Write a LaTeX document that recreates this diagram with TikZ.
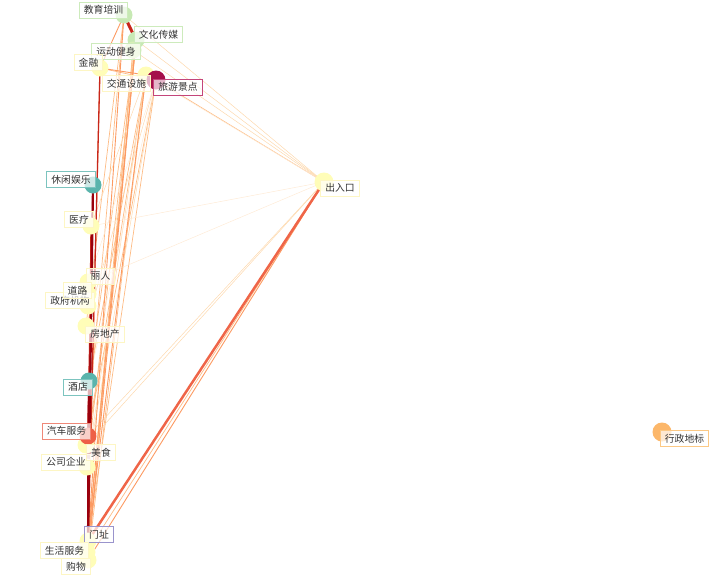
\documentclass[tikz,border=0pt]{standalone}
\usepackage{fontspec}
\newfontfamily\cjk{Noto Sans CJK SC}
\definecolor{cgreen}{HTML}{C7E9B4}
\definecolor{cyellow}{HTML}{FFFDB8}
\definecolor{cteal}{HTML}{5AB4AC}
\definecolor{ccrimson}{HTML}{A50F4A}
\definecolor{cred}{HTML}{EE6047}
\definecolor{corange}{HTML}{FCB76A}
\definecolor{bgreen}{HTML}{CDEBBC}
\definecolor{byellow}{HTML}{FDF6C4}
\definecolor{bteal}{HTML}{7CC4BF}
\definecolor{bcrimson}{HTML}{C4457A}
\definecolor{bred}{HTML}{EF8878}
\definecolor{borange}{HTML}{FCC985}
\definecolor{bpurple}{HTML}{9A94CC}
\definecolor{eheavy}{HTML}{99000D}
\definecolor{estrong}{HTML}{C8261A}
\definecolor{emid}{HTML}{EF6548}
\definecolor{elight}{HTML}{FC9A62}
\definecolor{epale}{HTML}{FDBB84}
\definecolor{efaint}{HTML}{FDD9AE}
\definecolor{eghost}{HTML}{FEEBD6}
\begin{document}
\begin{tikzpicture}[x=1pt,y=-1pt,
	dot/.style={circle,inner sep=0pt,minimum size=17,fill=#1},
	lbl/.style={draw=#1,line width=1pt,fill=white,fill opacity=0.7,text opacity=1,
		inner xsep=4.5pt,inner ysep=0pt,minimum height=16,text=black!80,font=\cjk\fontsize{9.8}{10}\selectfont}]
	\useasboundingbox (0,0) rectangle (720,576);

	% positions of the categories
	\coordinate (jiaoyu) at (124,15);
	\coordinate (wenhua) at (136,40);
	\coordinate (yundong) at (133,50);
	\coordinate (jinrong) at (100,68);
	\coordinate (jiaotong) at (146,75);
	\coordinate (lvyou) at (156,80);
	\coordinate (xiuxian) at (93,185);
	\coordinate (yiliao) at (91,226);
	\coordinate (liren) at (88,282);
	\coordinate (daolu) at (88,294);
	\coordinate (zhengfu) at (88,306);
	\coordinate (fangdi) at (86,326);
	\coordinate (jiudian) at (89,381);
	\coordinate (qiche) at (88,436);
	\coordinate (meishi) at (86,445);
	\coordinate (gongsi) at (87,467);
	\coordinate (menzhi) at (88,541);
	\coordinate (shenghuo) at (87,552);
	\coordinate (gouwu) at (88,560);
	\coordinate (churu) at (324,182);
	\coordinate (xingzheng) at (662,432);

	% links
	\foreach \a/\b in {lvyou/churu,lvyou/menzhi,jiaotong/gouwu,yundong/menzhi,wenhua/jiudian,
		jiaoyu/meishi,jiaotong/qiche,lvyou/meishi,wenhua/shenghuo,jinrong/lvyou,shenghuo/churu,
		yundong/gouwu,jiaotong/jiudian,wenhua/gongsi,jiaoyu/fangdi}
		\draw[epale,line width=0.7pt] (\a) -- (\b);
	\foreach \a/\b in {wenhua/churu,jiaoyu/churu,meishi/churu,qiche/churu,yundong/churu,
		lvyou/gongsi,jiaotong/gongsi,lvyou/fangdi,jiaotong/yiliao}
		\draw[efaint,line width=0.5pt] (\a) -- (\b);
	\foreach \a/\b in {yiliao/churu,liren/churu,lvyou/jiudian,jiaotong/churu,lvyou/liren}
		\draw[eghost,line width=0.5pt] (\a) -- (\b);
	\foreach \a/\b in {gouwu/churu,jiaoyu/menzhi,wenhua/gouwu,jiaotong/menzhi,jinrong/jiaotong,
		jiaoyu/jinrong,wenhua/menzhi,jinrong/gouwu}
		\draw[elight,line width=0.9pt] (\a) -- (\b);
	\foreach \a/\b in {jinrong/menzhi,yiliao/menzhi,xiuxian/gongsi}
		\draw[estrong,line width=1.3pt] (\a) -- (\b);
	\foreach \a/\b in {xiuxian/menzhi,jiudian/menzhi,qiche/gouwu}
		\draw[eheavy,line width=2.2pt] (\a) -- (\b);
	\draw[emid,line width=2.5pt] (menzhi) -- (churu);
	\draw[estrong,line width=3pt] (jiaoyu) -- (wenhua);

	% circles
	\foreach \n in {jiaoyu,wenhua}
		\node[dot=cgreen] at (\n) {};
	\node[dot=cgreen!70!cyellow] at (yundong) {};
	\foreach \n in {jinrong,jiaotong,yiliao,liren,daolu,zhengfu,fangdi,meishi,gongsi,menzhi,shenghuo,gouwu}
		\node[dot=cyellow] at (\n) {};
	\node[dot=cyellow,minimum size=19] at (churu) {};
	\node[dot=ccrimson,minimum size=19] at (lvyou) {};
	\node[dot=cteal] at (xiuxian) {};
	\node[dot=cteal] at (jiudian) {};
	\node[dot=cred] at (qiche) {};
	\node[dot=corange,minimum size=19] at (xingzheng) {};

	% labels
	\node[lbl=bgreen] (jiaoyu-l) at (103.5,10) {教育培训};
	\node[lbl=bgreen] (wenhua-l) at (158.5,34.5) {文化传媒};
	\node[lbl=bgreen] (yundong-l) at (116,51.5) {运动健身};
	\node[lbl=byellow] (jinrong-l) at (88.5,62.5) {金融};
	\node[lbl=byellow] (jiaotong-l) at (126.5,83.5) {交通设施};
	\node[lbl=bcrimson] (lvyou-l) at (178,87) {旅游景点};
	\node[lbl=bteal] (xiuxian-l) at (71,179.5) {休闲娱乐};
	\node[lbl=byellow] (yiliao-l) at (79,219.5) {医疗};
	\node[lbl=byellow] (liren-l) at (100.5,276) {丽人};
	\node[lbl=byellow] (zhengfu-l) at (70,300.5) {政府机构};
	\node[lbl=byellow] (daolu-l) at (77.5,290.5) {道路};
	\node[lbl=byellow] (fangdi-l) at (105,334) {房地产};
	\node[lbl=bteal] (jiudian-l) at (78,387) {酒店};
	\node[lbl=bred] (qiche-l) at (66.5,431) {汽车服务};
	\node[lbl=byellow] (gongsi-l) at (66,462) {公司企业};
	\node[lbl=byellow] (meishi-l) at (101,452.5) {美食};
	\node[lbl=bpurple] (menzhi-l) at (99,534.5) {门址};
	\node[lbl=byellow] (shenghuo-l) at (64.5,550.5) {生活服务};
	\node[lbl=byellow] (gouwu-l) at (76,566.5) {购物};
	\node[lbl=byellow] (churu-l) at (340,188) {出入口};
	\node[lbl=borange] (xingzheng-l) at (684.5,438.5) {行政地标};
\end{tikzpicture}
\end{document}
